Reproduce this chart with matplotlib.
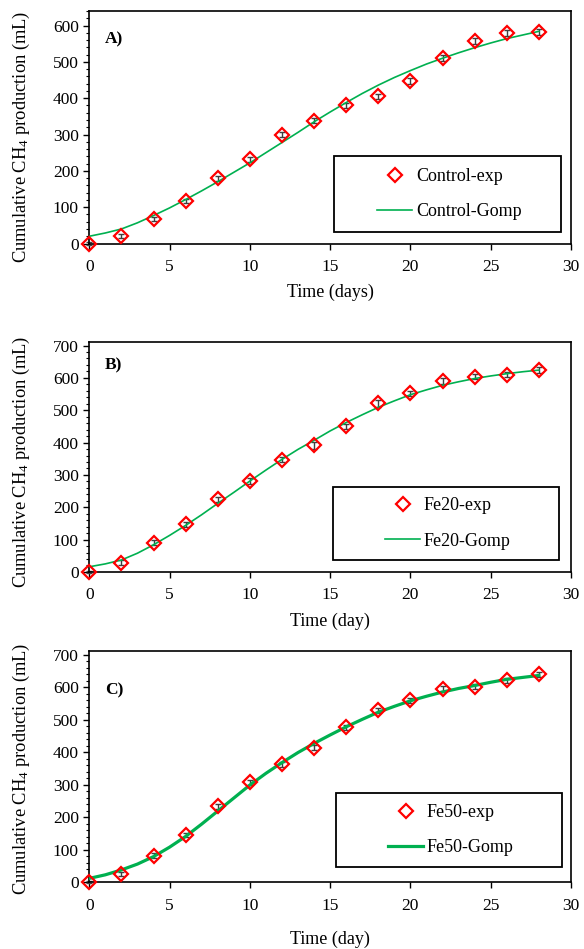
import numpy as np
import matplotlib
matplotlib.use("Agg")
import matplotlib.pyplot as plt
from matplotlib.patches import Rectangle

plt.rcParams['font.family'] = ['Liberation Serif', 'DejaVu Serif']
plt.rcParams['mathtext.fontset'] = 'custom'
plt.rcParams['mathtext.rm'] = 'Liberation Serif'
plt.rcParams['mathtext.it'] = 'Liberation Serif:italic'

# sampling days (every 2 days) and fitted-curve days (daily)
days_exp = [0, 2, 4, 6, 8, 10, 12, 14, 16, 18, 20, 22, 24, 26, 28]
days_fit = list(range(0, 29))

# Control
control_exp = [0, 20, 68, 117, 179, 232, 299, 338, 380, 405, 447, 510, 558, 579, 583]
control_err = [3, 6, 6, 6, 7, 7, 7, 7, 7, 7, 8, 8, 8, 8, 8]
control_gomp = [20, 29, 40, 57, 77, 98, 121, 145, 170, 196, 222, 250, 278, 306,
                335, 362, 388, 413, 436, 457, 476, 494, 510, 525, 539, 552, 564,
                574, 584]

# Fe20
fe20_exp = [0, 29, 91, 147, 225, 281, 347, 391, 450, 521, 552, 590, 604, 610, 624]
fe20_err = [3, 7, 7, 8, 8, 8, 8, 10, 8, 10, 8, 10, 8, 8, 10]
fe20_gomp = [16, 25, 37, 58, 84, 113, 144, 177, 212, 246, 281, 315, 348, 379,
             407, 436, 462, 486, 509, 529, 548, 563, 577, 588, 598, 606, 613,
             619, 624]

# Fe50
fe50_exp = [0, 26, 82, 146, 234, 308, 363, 414, 476, 529, 560, 595, 601, 621, 639]
fe50_err = [3, 6, 7, 7, 8, 8, 8, 8, 8, 8, 8, 8, 8, 8, 8]
fe50_gomp = [12, 23, 38, 56, 79, 108, 141, 179, 219, 259, 299, 335, 368, 399,
             427, 453, 478, 501, 523, 541, 558, 572, 585, 596, 605, 615, 624,
             630, 636]

panels = [
    dict(tag="A)", exp=control_exp, err=control_err, fit=control_gomp,
         lab_exp="Control-exp", lab_fit="Control-Gomp", xlabel="Time (days)",
         ytop=640, yticks=range(0, 601, 100), lw=1.2,
         rect=[0.1529, 0.7434, 0.8248, 0.2450],
         box=(0.508, 0.048, 0.471, 0.328), tag_y=0.880, xlpad=6.5, ylab_y=0.46),
    dict(tag="B)", exp=fe20_exp, err=fe20_err, fit=fe20_gomp,
         lab_exp="Fe20-exp", lab_fit="Fe20-Gomp", xlabel="Time (day)",
         ytop=710, yticks=range(0, 701, 100), lw=1.2,
         rect=[0.1529, 0.3973, 0.8248, 0.2420],
         box=(0.506, 0.052, 0.469, 0.318), tag_y=0.900, xlpad=6.5, ylab_y=0.48),
    dict(tag="C)", exp=fe50_exp, err=fe50_err, fit=fe50_gomp,
         lab_exp="Fe50-exp", lab_fit="Fe50-Gomp", xlabel="Time (day)",
         ytop=712, yticks=range(0, 701, 100), lw=2.3,
         rect=[0.1529, 0.0703, 0.8248, 0.2440],
         box=(0.512, 0.066, 0.469, 0.320), tag_y=0.830, xlpad=12.5, ylab_y=0.49),
]

green = "#00b050"
red = "#ff0000"

fig = plt.figure(figsize=(5.84, 9.49), dpi=100)

for p in panels:
    ax = fig.add_axes(p["rect"])
    _, caps, bars = ax.errorbar(days_exp, p["exp"], yerr=p["err"], fmt="none",
                                ecolor="#404040", elinewidth=1.0, capsize=2.5,
                                capthick=1.0, zorder=2)
    for art in list(caps) + list(bars):
        art.set_clip_on(False)
    line, = ax.plot(days_fit, p["fit"], color=green, lw=p["lw"], zorder=3,
                    label=p["lab_fit"])
    pts, = ax.plot(days_exp, p["exp"], linestyle="none", marker="D",
                   markersize=7, markerfacecolor="none", markeredgecolor=red,
                   markeredgewidth=1.6, zorder=4, label=p["lab_exp"],
                   clip_on=False)

    ax.set_xlim(0, 30)
    ax.set_ylim(0, p["ytop"])
    ax.set_xticks(range(0, 31, 5))
    ax.set_yticks(list(p["yticks"]))
    ax.set_yticks(np.arange(0, p["ytop"] + 1, 20), minor=True)
    ax.tick_params(axis="both", which="major", direction="out", length=4,
                   width=1.0, labelsize=12.5)
    ax.tick_params(axis="x", which="major", pad=7)
    ax.tick_params(axis="y", which="major", pad=3.5)
    ax.tick_params(axis="y", which="minor", direction="out", length=2.5,
                   width=0.8)
    for s in ax.spines.values():
        s.set_linewidth(1.2)

    ax.set_xlabel(p["xlabel"], fontsize=13, labelpad=p["xlpad"])
    ax.set_ylabel("Cumulative CH$_4$ production (mL)", fontsize=13.3,
                  labelpad=15)
    ax.yaxis.label.set_y(p["ylab_y"])

    ax.text(0.033, p["tag_y"], p["tag"], transform=ax.transAxes,
            fontsize=12.5, fontweight="bold", va="center", ha="left")

    bx, by, bw, bh = p["box"]
    ax.add_patch(Rectangle((bx, by), bw, bh, transform=ax.transAxes,
                           fill=False, edgecolor="black", lw=1.3, zorder=5))
    ax.legend(handles=[pts, line], loc="center",
              bbox_to_anchor=(bx + bw / 2 + 0.004, by + bh / 2),
              frameon=False, fontsize=13, labelspacing=1.0,
              handlelength=1.95, handletextpad=0.2)

fig.savefig("out.png", dpi=100)
